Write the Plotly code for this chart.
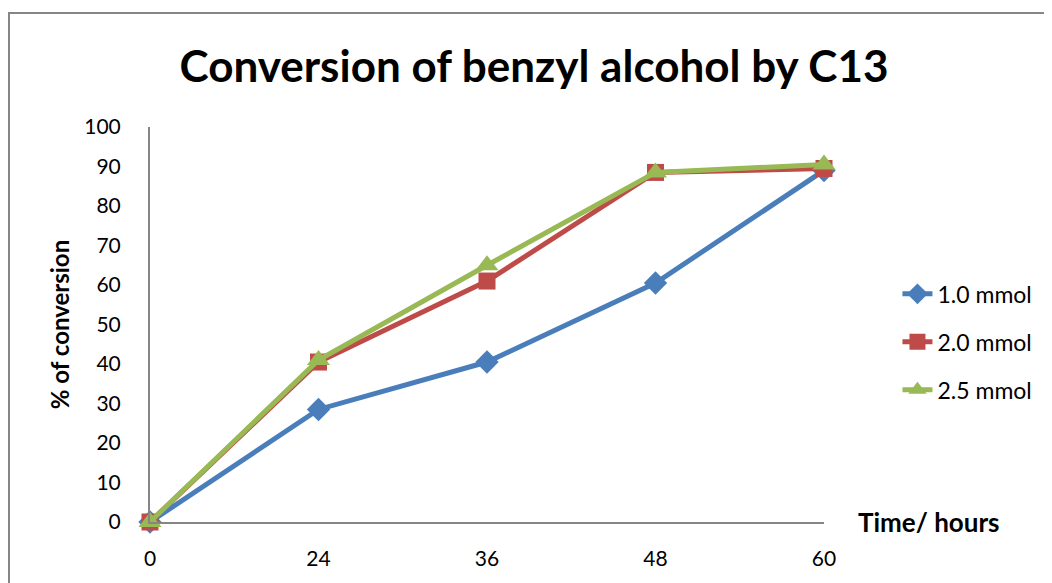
import plotly.graph_objects as go

# data
hours = ["0", "24", "36", "48", "60"]
conv_1_0 = [0, 28.5, 40.5, 60.5, 89]
conv_2_0 = [0, 40.5, 61, 88.5, 89.5]
conv_2_5 = [0, 41, 65, 88.5, 90.5]
names = ["1.0 mmol", "2.0 mmol", "2.5 mmol"]

FONT = "Lato"
colors = ["#4a7ebb", "#be4b48", "#98b954"]
symbols = ["diamond", "square", "triangle-up"]
sizes = [18, 17, 20]

fig = go.Figure()
for i, ys in enumerate([conv_1_0, conv_2_0, conv_2_5]):
    fig.add_scatter(x=hours, y=ys, name=names[i], mode="lines+markers",
                    line=dict(color=colors[i], width=5),
                    marker=dict(symbol=symbols[i], size=sizes[i], color=colors[i]),
                    legendgroup=f"g{i}", cliponaxis=False)

# page is offset by the 8px body margin, so the margins are shifted to compensate
fig.update_layout(
    width=1052, height=583,
    margin=dict(l=142, r=236, t=119, b=69),
    paper_bgcolor="white", plot_bgcolor="white",
    font=dict(family=FONT, size=21, color="black"),
    title=dict(text="<b>Conversion of benzyl alcohol by C13</b>",
               font=dict(family=FONT, size=44, color="black"),
               x=0.5, xanchor="center", y=0.9, yanchor="middle"),
    legend=dict(x=1.109, y=0.456, xanchor="left", yanchor="middle",
                font=dict(family=FONT, size=23), tracegroupgap=15,
                bgcolor="rgba(0,0,0,0)"),
    showlegend=True,
)

fig.update_xaxes(type="category", range=[0, 4], showgrid=False,
                 showline=True, linecolor="#868686", linewidth=2,
                 ticks="", tickfont=dict(size=21), ticklabelstandoff=17, zeroline=False)
fig.update_yaxes(range=[0, 100], dtick=10, showgrid=False,
                 showline=True, linecolor="#868686", linewidth=2,
                 ticks="", tickfont=dict(size=21), ticklabelstandoff=23, zeroline=False,
                 title=dict(text="<b>% of conversion</b>", font=dict(size=24), standoff=8))

# x-axis title sits at the right end, like the Excel original
fig.add_annotation(text="<b>Time/ hours</b>", xref="paper", yref="paper",
                   x=1.047, y=0, xanchor="left", yanchor="middle",
                   showarrow=False, font=dict(family=FONT, size=26))

# chart frame
fig.add_shape(type="rect", xref="paper", yref="paper",
              x0=-0.2092, x1=1.6, y0=1.2886, y1=-0.5,
              line=dict(color="#868686", width=2), layer="below")

fig.write_html("out.html")
